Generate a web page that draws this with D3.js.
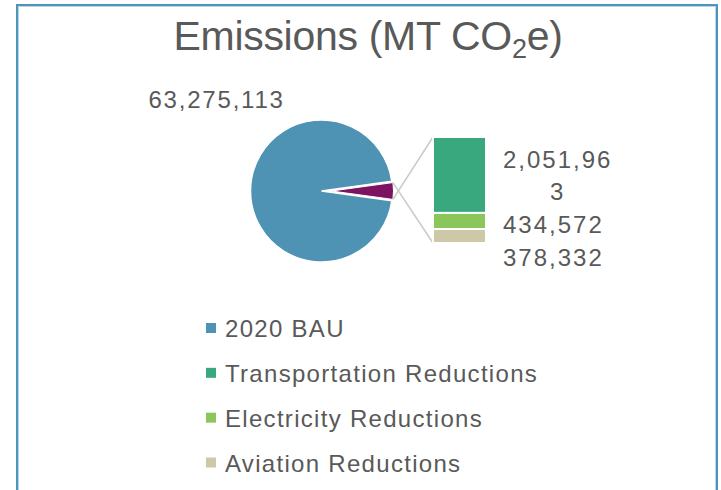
<!DOCTYPE html>
<html>
<head>
<meta charset="utf-8">
<script src="https://cdn.jsdelivr.net/npm/d3@7"></script>
<style>
	html, body { margin: 0; padding: 0; background: #fff; }
	svg { display: block; font-family: "Liberation Sans", Arial, sans-serif; }
	.txt { fill: #595959; }
</style>
</head>
<body>
<div id="chart"></div>
<script>
const categories = ['2020 BAU', 'Transportation Reductions', 'Electricity Reductions', 'Aviation Reductions'];
const values = [63275113, 2051963, 434572, 378332];
const colors = ['#4e92b4', '#3aa87f', '#8bc65a', '#cdc8a8'];
const otherColor = '#7c1462';

const width = 721, height = 490;

const svg = d3.select('#chart')
	.append('svg')
	.attr('width', width)
	.attr('height', height);

// frame
svg.append('rect')
	.attr('x', 17).attr('y', 5)
	.attr('width', 700).attr('height', height + 20)
	.attr('fill', 'none')
	.attr('stroke', '#4f94b9')
	.attr('stroke-width', 2);
svg.append('rect')
	.attr('x', 18.5).attr('y', 6.5)
	.attr('width', 697).attr('height', height + 20)
	.attr('fill', 'none')
	.attr('stroke', '#b9d7e7')
	.attr('stroke-width', 1);

// title
const title = svg.append('text')
	.attr('class', 'txt')
	.attr('x', 368).attr('y', 50)
	.attr('text-anchor', 'middle')
	.style('font-size', '41px')
	.style('letter-spacing', '-0.3px');
title.append('tspan').text('Emissions (MT CO');
title.append('tspan').text('2').style('font-size', '27px').attr('dy', 8);
title.append('tspan').text('e)').attr('dy', -8);

const fmt = d3.format(',');

// pie: main value vs sum of the rest
const otherTotal = d3.sum(values.slice(1));
const pieValues = [values[0], otherTotal];
const cx = 321.5, cy = 191, r = 71;
const explode = 10, otherR = 62;
const half = Math.PI * otherTotal / d3.sum(pieValues);

const pie = d3.pie().sort(null)
	.startAngle(Math.PI / 2 + half)
	.endAngle(Math.PI / 2 + half + 2 * Math.PI);
const arcs = pie(pieValues);

const pieG = svg.append('g').attr('transform', `translate(${cx}, ${cy})`);

pieG.append('path')
	.attr('d', d3.arc().innerRadius(0).outerRadius(r)(arcs[0]))
	.attr('fill', colors[0])
	.attr('stroke', '#fff')
	.attr('stroke-width', 1.5);

const otherArc = d3.arc().innerRadius(0).outerRadius(otherR);
pieG.append('path')
	.attr('transform', `translate(${explode}, 0)`)
	.attr('d', otherArc(arcs[1]))
	.attr('fill', otherColor)
	.attr('stroke', '#fff')
	.attr('stroke-width', 1);

// bar of the rest
const barX = 433, barW = 53;
const yScale = d3.scaleLinear().domain([0, otherTotal]).range([137, 243]);
const stack = [];
let acc = 0;
values.slice(1).forEach((v, i) => {
	stack.push({value: v, y0: acc, y1: acc + v, color: colors[i + 1]});
	acc += v;
});

// connector lines from the exploded slice to the bar
const corner = (a) => [cx + explode + otherR * Math.sin(a), cy - otherR * Math.cos(a)];
const pTop = corner(arcs[1].endAngle);
const pBot = corner(arcs[1].startAngle);
svg.append('line')
	.attr('x1', pTop[0]).attr('y1', pTop[1])
	.attr('x2', barX).attr('y2', yScale(0))
	.attr('stroke', '#c9c9c9').attr('stroke-width', 1.5);
svg.append('line')
	.attr('x1', pBot[0]).attr('y1', pBot[1])
	.attr('x2', barX).attr('y2', yScale(otherTotal))
	.attr('stroke', '#c9c9c9').attr('stroke-width', 1.5);

svg.selectAll('.seg')
	.data(stack)
	.enter()
	.append('rect')
	.attr('class', 'seg')
	.attr('x', barX)
	.attr('y', d => yScale(d.y0))
	.attr('width', barW)
	.attr('height', d => yScale(d.y1) - yScale(d.y0))
	.attr('fill', d => d.color)
	.attr('stroke', '#fff')
	.attr('stroke-width', 2);

// pie label (best fit, upper left)
const labelAngle = -139 * Math.PI / 180, labelDist = 139;
svg.append('text')
	.attr('class', 'txt')
	.attr('x', cx + labelDist * Math.cos(labelAngle))
	.attr('y', cy + labelDist * Math.sin(labelAngle) + 8)
	.attr('text-anchor', 'middle')
	.style('font-size', '24px')
	.style('letter-spacing', '1.8px')
	.text(fmt(values[0]));

// bar labels, wrapped to a fixed box width
const labelX = 503, maxLabelW = 116, lineH = 32;
let lastBottom = -Infinity;
stack.forEach(d => {
	const t = svg.append('text')
		.attr('class', 'txt')
		.style('font-size', '24px')
		.style('letter-spacing', '2px');
	const str = fmt(d.value);
	const lines = [];
	let cur = '';
	const probe = t.append('tspan');
	for (const ch of str) {
		probe.text(cur + ch);
		if (probe.node().getComputedTextLength() > maxLabelW && cur) {
			lines.push(cur);
			cur = ch;
		} else {
			cur += ch;
		}
	}
	lines.push(cur);
	probe.remove();

	const mid = (yScale(d.y0) + yScale(d.y1)) / 2;
	let top = mid - (lines.length * lineH) / 2;
	if (top < lastBottom + 1) top = lastBottom + 1;
	lastBottom = top + lines.length * lineH;

	let firstW = 0;
	lines.forEach((ln, i) => {
		const span = t.append('tspan')
			.attr('y', top + i * lineH + 25.5)
			.text(ln);
		if (i === 0) {
			span.attr('x', labelX);
			firstW = span.node().getComputedTextLength();
		} else {
			span.attr('x', labelX + firstW / 2).attr('text-anchor', 'middle');
		}
	});
});

// legend
const legendY = d3.scalePoint().domain(categories).range([328, 462.5]);
const legend = svg.selectAll('.legend')
	.data(categories)
	.enter()
	.append('g')
	.attr('class', 'legend')
	.attr('transform', d => `translate(206, ${legendY(d)})`);

legend.append('rect')
	.attr('x', 0).attr('y', -5)
	.attr('width', 10).attr('height', 10)
	.attr('fill', (d, i) => colors[i]);

legend.append('text')
	.attr('class', 'txt')
	.attr('x', 19).attr('y', 9)
	.style('font-size', '24px')
	.style('letter-spacing', '1.3px')
	.text(d => d);
</script>
</body>
</html>
